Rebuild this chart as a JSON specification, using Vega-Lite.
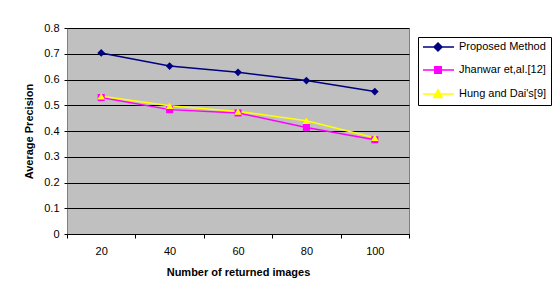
{
  "$schema": "https://vega.github.io/schema/vega-lite/v6.json",
  "width": 342,
  "height": 206,
  "autosize": {"type": "none"},
  "padding": {"left": 67, "top": 28, "right": 144, "bottom": 61},
  "background": "white",
  "config": {
    "view": {"fill": "#C0C0C0", "stroke": "#808080", "strokeWidth": 1},
    "font": "Liberation Sans"
  },
  "data": {
    "values": [
      {"n": "20", "series": "Proposed Method", "ap": 0.703},
      {"n": "40", "series": "Proposed Method", "ap": 0.652},
      {"n": "60", "series": "Proposed Method", "ap": 0.628},
      {"n": "80", "series": "Proposed Method", "ap": 0.596},
      {"n": "100", "series": "Proposed Method", "ap": 0.553},
      {"n": "20", "series": "Jhanwar et,al.[12]", "ap": 0.53},
      {"n": "40", "series": "Jhanwar et,al.[12]", "ap": 0.483},
      {"n": "60", "series": "Jhanwar et,al.[12]", "ap": 0.47},
      {"n": "80", "series": "Jhanwar et,al.[12]", "ap": 0.414},
      {"n": "100", "series": "Jhanwar et,al.[12]", "ap": 0.366},
      {"n": "20", "series": "Hung and Dai's[9]", "ap": 0.535},
      {"n": "40", "series": "Hung and Dai's[9]", "ap": 0.498},
      {"n": "60", "series": "Hung and Dai's[9]", "ap": 0.476},
      {"n": "80", "series": "Hung and Dai's[9]", "ap": 0.44},
      {"n": "100", "series": "Hung and Dai's[9]", "ap": 0.374}
    ]
  },
  "encoding": {
    "x": {
      "field": "n", "type": "ordinal", "sort": ["20", "40", "60", "80", "100"],
      "scale": {"type": "band", "paddingInner": 0, "paddingOuter": 0},
      "axis": {
        "title": "Number of returned images", "labelAngle": 0, "grid": false,
        "tickBand": "extent", "tickSize": 4, "tickColor": "black", "domainColor": "black",
        "labelFontSize": 11, "labelColor": "black", "labelPadding": 7,
        "titleFontSize": 11, "titleFontWeight": "bold", "titleColor": "black", "titlePadding": 10
      }
    },
    "y": {
      "field": "ap", "type": "quantitative",
      "scale": {"domain": [0, 0.8], "nice": false},
      "axis": {
        "title": "Average Precision", "values": [0, 0.1, 0.2, 0.3, 0.4, 0.5, 0.6, 0.7, 0.8],
        "format": ".1~f", "domain": false, "grid": true, "gridColor": "black", "gridOpacity": 1,
        "tickSize": 3, "tickColor": "black", "labelFontSize": 11, "labelColor": "black", "labelPadding": 5,
        "titleFontSize": 11, "titleFontWeight": "bold", "titleColor": "black", "titlePadding": 9
      }
    },
    "color": {
      "field": "series", "type": "nominal",
      "scale": {"domain": ["Proposed Method", "Jhanwar et,al.[12]", "Hung and Dai's[9]"], "range": ["#000080", "#FF00FF", "#FFFF00"]},
      "legend": {
        "orient": "none", "legendX": 351, "legendY": 9, "title": null,
        "strokeColor": "black", "fillColor": "white", "padding": 4,
        "labelFont": "Liberation Sans", "labelFontSize": 11, "labelColor": "black", "labelOffset": 25,
        "rowPadding": 9, "symbolSize": 100, "symbolStrokeWidth": 1.5,
        "encode": {
          "symbols": {
            "update": {
              "shape": {"signal": "test(/^Prop/, datum.value) ? 'M-1,0H5.2M2,-0.8L2.8,0L2,0.8L1.2,0Z' : test(/^Jhan/, datum.value) ? 'M-1,0H5.2M1.35,-0.65H2.65V0.65H1.35Z' : 'M-1,0H5.2M2,-0.85L2.85,0.7H1.15Z'"},
              "stroke": {"scale": "color", "field": "value"},
              "fill": {"scale": "color", "field": "value"},
              "size": {"value": 100},
              "opacity": {"value": 1}
            }
          }
        }
      }
    }
  },
  "layer": [
    {"mark": {"type": "line", "strokeWidth": 1.5}},
    {
      "transform": [{"filter": "datum.series === 'Proposed Method'"}],
      "mark": {"type": "point", "filled": true, "opacity": 1, "shape": "diamond", "size": 60}
    },
    {
      "transform": [{"filter": "test(/^Jhan/, datum.series)"}],
      "mark": {"type": "point", "filled": true, "opacity": 1, "shape": "square", "size": 50}
    },
    {
      "transform": [{"filter": "test(/^Hung/, datum.series)"}],
      "mark": {"type": "point", "filled": true, "opacity": 1, "shape": "triangle-up", "size": 55}
    }
  ]
}
